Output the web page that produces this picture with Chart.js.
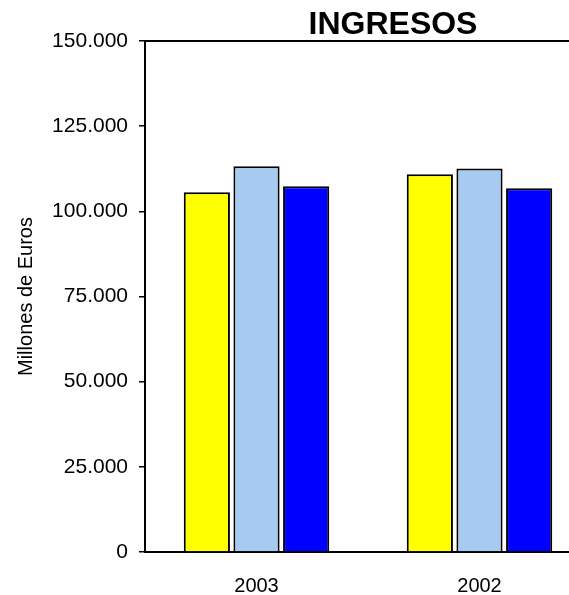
<!DOCTYPE html>
<html>
<head>
<meta charset="utf-8">
<script src="https://cdn.jsdelivr.net/npm/chart.js@4/dist/chart.umd.min.js"></script>
<style>
    html, body { margin: 0; padding: 0; background: #fff; overflow: hidden; }
    #wrap { width: 569px; height: 595px; overflow: hidden; }
</style>
</head>
<body>
<div id="wrap"><canvas id="ingresosChart" width="595" height="595"></canvas></div>
<script>
const categories = ['2003', '2002'];
const serieAmarilla = [105600, 110900];
const serieCeleste = [113200, 112600];
const serieAzul = [107350, 106750];
const yTicks = [0, 25000, 50000, 75000, 100000, 125000, 150000];

Chart.defaults.font.family = '"Liberation Sans", Arial, sans-serif';
Chart.defaults.color = '#000';

function puntoMiles(v) {
    return String(v).replace(/\B(?=(\d{3})+(?!\d))/g, '.');
}

// the plot runs past the right edge, so nudge the title back to where it sits
const titleShift = {
    id: 'titleShift',
    afterLayout(c) {
        c.titleBlock.left += 25;
        c.titleBlock.right += 25;
    }
};

const ctx = document.getElementById('ingresosChart').getContext('2d');
const chart = new Chart(ctx, {
    type: 'bar',
    data: {
        labels: categories,
        datasets: [
            { label: 'Serie 1', data: serieAmarilla, backgroundColor: '#FFFF00' },
            { label: 'Serie 2', data: serieCeleste, backgroundColor: '#A6CAF0' },
            { label: 'Serie 3', data: serieAzul, backgroundColor: '#0000FF' }
        ]
    },
    plugins: [titleShift],
    options: {
        responsive: false,
        animation: false,
        datasets: {
            bar: {
                borderColor: '#000',
                borderWidth: 2,
                categoryPercentage: 0.668,
                barPercentage: 0.93
            }
        },
        layout: { padding: { left: 4, right: 4, bottom: 0, top: 0 } },
        plugins: {
            legend: { display: false },
            tooltip: { enabled: false },
            title: {
                display: true,
                text: 'INGRESOS',
                fullSize: false,
                font: { size: 32, weight: 'bold', lineHeight: 1 },
                padding: { top: 9, bottom: 0 }
            }
        },
        scales: {
            x: {
                position: 'bottom',
                grid: { display: false, drawTicks: false },
                border: { color: '#000', width: 2 },
                ticks: { font: { size: 20 }, padding: 22 },
                afterFit: s => { s.height = 43; }
            },
            xTop: {
                type: 'category',
                labels: categories,
                position: 'top',
                grid: { display: false, drawTicks: false },
                border: { color: '#000', width: 2 },
                ticks: { display: false },
                afterFit: s => { s.height = 0; }
            },
            y: {
                min: 0,
                max: 150000,
                afterBuildTicks: s => { s.ticks = yTicks.map(v => ({ value: v })); },
                afterFit: s => { s.width = 141; },
                grid: { drawOnChartArea: false, drawTicks: true, tickLength: 6, color: '#000', lineWidth: 1.5 },
                border: { color: '#000', width: 2 },
                ticks: { font: { size: 21 }, padding: 11, callback: v => puntoMiles(v) },
                title: { display: true, text: 'Millones de Euros', font: { size: 20 }, padding: { top: 10, bottom: 0 } }
            }
        }
    }
});
</script>
</body>
</html>
